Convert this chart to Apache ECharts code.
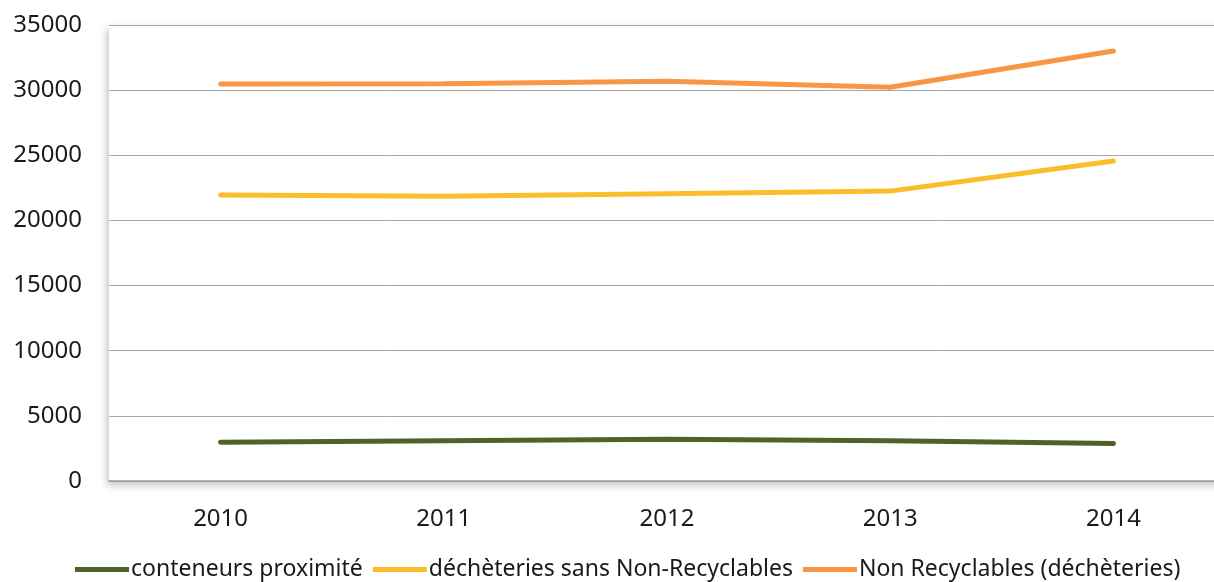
<!DOCTYPE html>
<html lang="fr">
<head>
    <meta charset="UTF-8">
    <title>tonnages</title>
    <script src="https://cdn.jsdelivr.net/npm/echarts@6/dist/echarts.min.js"></script>
    <style>
        html, body { margin: 0; padding: 0; background: #fff; }
    </style>
</head>
<body>
<div id="main" style="width: 1214px;height:582px;"></div>
<script type="text/javascript">
    // données
    var annees = ['2010', '2011', '2012', '2013', '2014'];
    var conteneurs = [2970, 3080, 3200, 3080, 2870];
    var decheteries = [21950, 21850, 22050, 22250, 24560];
    var nonRecyclables = [30470, 30500, 30680, 30220, 33000];
    var yTicks = [0, 5000, 10000, 15000, 20000, 25000, 30000, 35000];

    var police = 'Noto Sans';
    var myChart = echarts.init(document.getElementById('main'));

    function serie(nom, couleur, data) {
        return {
            name: nom,
            type: 'line',
            data: data,
            symbol: 'none',
            smooth: false,
            lineStyle: { color: couleur, width: 5, cap: 'round' },
            itemStyle: { color: couleur }
        };
    }

    var option = {
        animation: false,
        backgroundColor: '#fff',
        grid: {
            left: 109,
            right: -11,
            top: 25,
            bottom: 101,
            outerBoundsMode: 'none',
            containLabel: false,
            show: true,
            borderWidth: 0,
            backgroundColor: '#fff',
            shadowColor: 'rgba(0,0,0,0.25)',
            shadowBlur: 8,
            shadowOffsetX: -2,
            shadowOffsetY: 4
        },
        legend: {
            bottom: -4,
            left: 70,
            itemWidth: 54,
            itemHeight: 5,
            itemGap: 10,
            icon: 'rect',
            textStyle: { fontFamily: police, fontSize: 23, color: '#1a1a1a', padding: [0, 0, 0, -3] },
            data: ['conteneurs proximité', 'déchèteries sans Non-Recyclables', 'Non Recyclables (déchèteries)']
        },
        xAxis: {
            type: 'category',
            data: annees,
            boundaryGap: true,
            axisLine: { show: true, lineStyle: { color: '#9a9a9a', width: 1.5 } },
            axisTick: { show: false },
            axisLabel: { margin: 26, fontFamily: police, fontSize: 24, color: '#1a1a1a' }
        },
        yAxis: {
            type: 'value',
            min: yTicks[0],
            max: yTicks[yTicks.length - 1],
            interval: 5000,
            axisLine: { show: false },
            axisTick: { show: false },
            splitLine: { lineStyle: { color: '#a6a6a6', width: 1 } },
            axisLabel: {
                margin: 27, fontFamily: police, fontSize: 24, color: '#1a1a1a',
                formatter: function (v) { return String(v); }
            }
        },
        series: [
            serie('conteneurs proximité', '#4f6228', conteneurs),
            serie('déchèteries sans Non-Recyclables', '#fbbd2b', decheteries),
            serie('Non Recyclables (déchèteries)', '#f79646', nonRecyclables)
        ]
    };

    myChart.setOption(option);
</script>
</body>
</html>
